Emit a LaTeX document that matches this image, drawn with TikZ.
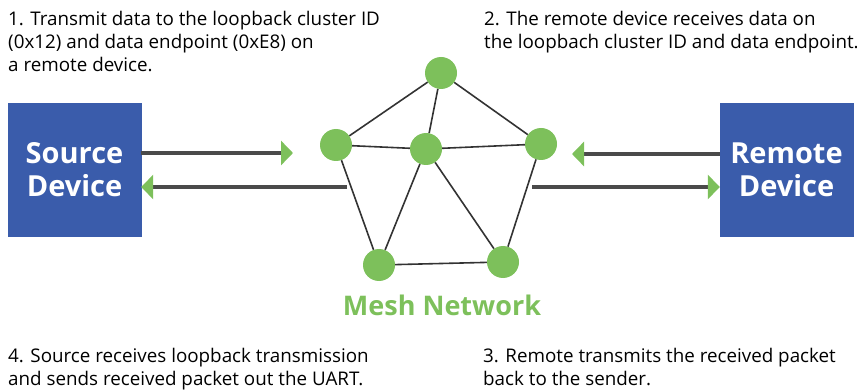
\documentclass[tikz,border=0pt]{standalone}
\usepackage{fontspec}
\setmainfont{Open Sans}
\usepackage{tikz}
\usetikzlibrary{arrows.meta}

\definecolor{devblue}{HTML}{3A5CAB}
\definecolor{meshgreen}{HTML}{7DC05B}
\definecolor{flowgray}{HTML}{4A4A4A}
\definecolor{linkgray}{HTML}{333333}

\begin{document}
\begin{tikzpicture}[x=1pt, y=-1pt,
  device/.style={fill=devblue, draw=devblue, minimum width=133pt, minimum height=133pt,
    inner sep=0pt, text=white, align=center, font=\fontsize{29}{33}\selectfont\bfseries},
  mesh/.style={circle, fill=meshgreen, minimum size=32pt, inner sep=0pt},
  link/.style={draw=linkgray, line width=1.6pt},
  flow/.style={draw=flowgray, line width=4pt,
    -{Triangle[length=12pt, width=24pt, color=meshgreen]}},
  note/.style={anchor=north west, inner sep=0pt, align=left,
    font=\fontsize{18.8}{23}\selectfont}]
\useasboundingbox (0,0) rectangle (857,390);

% Devices at both ends
\node[device] (src) at (74.5,169.5) {Source\\Device};
\node[device] (rem) at (786.5,169.5) {Remote\\Device};

% Mesh nodes
\node[mesh] (top)  at (441,73)  {};
\node[mesh] (lft)  at (336,145) {};
\node[mesh] (mid)  at (426,149) {};
\node[mesh] (rgt)  at (541,144) {};
\node[mesh] (blft) at (379,265) {};
\node[mesh] (brgt) at (503,262) {};

% Links between mesh nodes
\begin{scope}[on background layer/.try]
\foreach \a/\b in {top/lft, top/mid, top/rgt, lft/mid, mid/rgt,
                   lft/blft, mid/blft, mid/brgt, rgt/brgt, blft/brgt} {
    \draw[link] (\a) -- (\b);
}
\end{scope}

% Free ends of the data arrows
\coordinate (srcin)  at (293,153);
\coordinate (srcout) at (347,187);
\coordinate (remin)  at (572,154);
\coordinate (remout) at (532,187);

% Data flow
\draw[flow] (src.east |- srcin) -- (srcin);
\draw[flow] (srcout) -- (src.east |- srcout);
\draw[flow] (rem.west |- remin) -- (remin);
\draw[flow] (remout) -- (rem.west |- remout);

\node[text=meshgreen, font=\fontsize{27}{30}\selectfont\bfseries] (meshlbl) at (442,305) {Mesh Network};

% Step notes
\node[note] (step1) at (8,11.5) {1. Transmit data to the loopback cluster ID\\(0x12) and data endpoint (0xE8) on\\a remote device.};
\node[note] (step2) at (484,11.5) {2. The remote device receives data on\\the loopbach cluster ID and data endpoint.};
\node[note] (step3) at (483,348.5) {3. Remote transmits the received packet\\back to the sender.};
\node[note] (step4) at (8,348.5) {4. Source receives loopback transmission\\and sends received packet out the UART.};
\end{tikzpicture}
\end{document}
